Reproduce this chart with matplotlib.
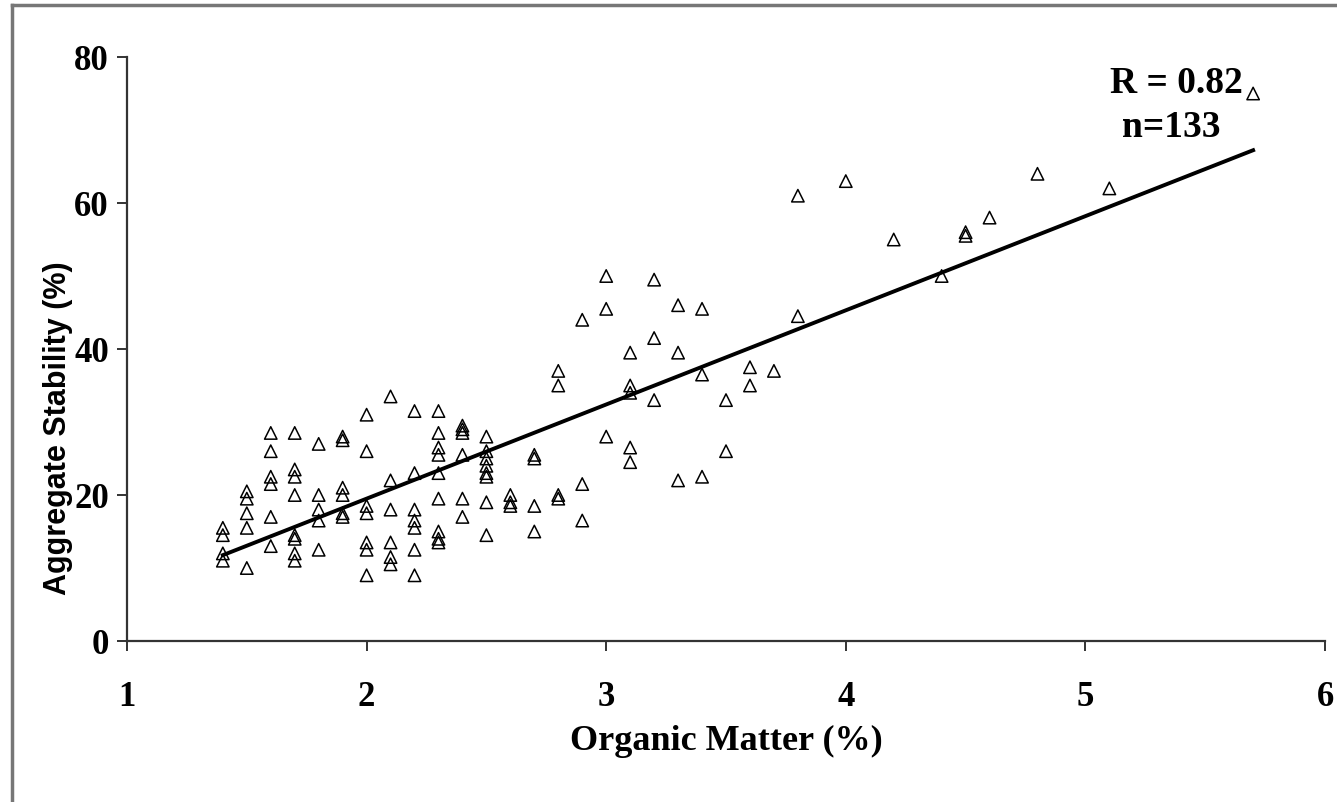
import numpy as np
import matplotlib
matplotlib.use("Agg")
import matplotlib.pyplot as plt
from matplotlib.lines import Line2D

# organic matter (%) and aggregate stability (%)
om_x = [1.4]*4 + [1.5]*5 + [1.6]*6 + [1.7]*8 + [1.8]*5 + [1.9]*6 + [2.0]*7 \
    + [2.1]*6 + [2.2]*7 + [2.3]*9 + [2.4]*6 + [2.5]*8 + [2.6]*3 + [2.7]*4 \
    + [2.8]*4 + [2.9]*3 + [3.0]*3 + [3.1]*5 + [3.2]*3 + [3.3]*3 + [3.4]*3 \
    + [3.5]*2 + [3.6]*2 + [3.7] + [3.8]*2 + [4.0] + [4.2] + [4.4] + [4.5]*2 \
    + [4.6] + [4.8] + [5.1] + [5.7]
stab_y = [15.5, 14.5, 12, 11,
          20.5, 19.5, 17.5, 15.5, 10,
          28.5, 26, 22.5, 21.5, 17, 13,
          28.5, 23.5, 22.5, 20, 14.5, 14, 12, 11,
          27, 20, 18, 16.5, 12.5,
          28, 27.5, 21, 20, 17.5, 17,
          31, 26, 18.5, 17.5, 13.5, 12.5, 9,
          33.5, 22, 18, 13.5, 11.5, 10.5,
          31.5, 23, 18, 16.5, 15.5, 12.5, 9,
          31.5, 28.5, 26.5, 25.5, 23, 19.5, 15, 14, 13.5,
          29.5, 29, 28.5, 25.5, 19.5, 17,
          28, 26, 25, 24, 23, 22.5, 19, 14.5,
          20, 19, 18.5,
          25.5, 25, 18.5, 15,
          37, 35, 20, 19.5,
          44, 21.5, 16.5,
          50, 45.5, 28,
          39.5, 35, 34, 26.5, 24.5,
          49.5, 41.5, 33,
          46, 39.5, 22,
          45.5, 36.5, 22.5,
          33, 26,
          37.5, 35,
          37,
          61, 44.5,
          63, 55, 50, 56, 55.5, 58, 64, 62, 75]

# fitted line as drawn in the reference
trend_slope = 12.9
trend_icpt = -6.3
trend_range = [1.4, 5.7]

fig = plt.figure(figsize=(13.37, 8.02), dpi=100)
ax = fig.add_axes([127/1337, 1 - 641/802, (1325-127)/1337, (641-57)/802])

ax.scatter(om_x, stab_y, marker='^', s=80, facecolors='none',
           edgecolors='black', linewidths=1.1, zorder=3)
tx = np.array(trend_range)
ax.plot(tx, trend_slope*tx + trend_icpt, color='black', lw=2.8, zorder=2)

ax.set_xlim(1, 6)
ax.set_ylim(0, 80)
ax.set_xticks([1, 2, 3, 4, 5, 6])
ax.set_yticks([0, 20, 40, 60, 80])
for s in ['top', 'right']:
    ax.spines[s].set_visible(False)
for s in ['left', 'bottom']:
    ax.spines[s].set_color('#333333')
    ax.spines[s].set_linewidth(1.6)
ax.tick_params(axis='both', direction='out', length=7, width=1.4, color='#333333')
ax.tick_params(axis='x', pad=22)
ax.tick_params(axis='y', pad=6)
for lab in ax.get_xticklabels() + ax.get_yticklabels():
    lab.set_fontfamily('Liberation Serif')
    lab.set_fontweight('bold')
    lab.set_fontsize(25)

ax.set_xlabel("Organic Matter (%)", fontfamily='Liberation Serif',
              fontweight='bold', fontsize=26, labelpad=8)
ax.set_ylabel("Aggregate Stability (%)", fontfamily='Liberation Sans',
              fontweight='bold', fontsize=22, va='center')
ax.yaxis.set_label_coords(-0.058, 0.365)

ax.text(5.38, 76.4, "R = 0.82", fontfamily='Liberation Serif', fontweight='bold',
        fontsize=27, ha='center', va='center')
ax.text(5.36, 70.3, "n=133", fontfamily='Liberation Serif', fontweight='bold',
        fontsize=27, ha='center', va='center')

# grey frame of the original picture
fig.add_artist(Line2D([12/1337, 12/1337], [0, 1 - 5/802], color='#777777', lw=2.5))
fig.add_artist(Line2D([12/1337, 1], [1 - 5/802, 1 - 5/802], color='#777777', lw=2.5))

fig.savefig('out.png', dpi=100)
